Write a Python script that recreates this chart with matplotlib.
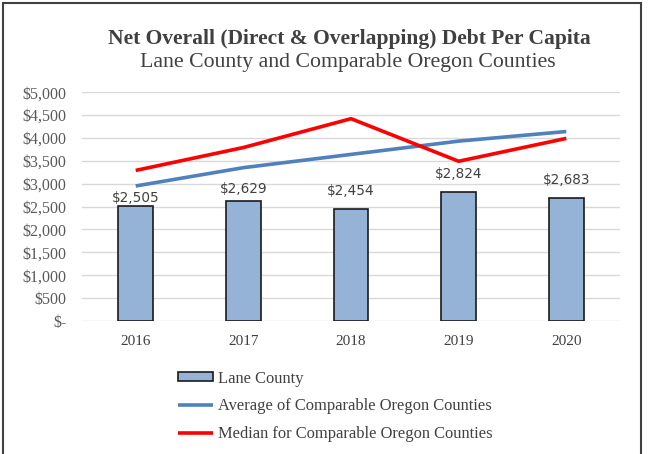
import matplotlib.pyplot as plt
from matplotlib.patches import Rectangle
from matplotlib.ticker import FuncFormatter

years = ["2016", "2017", "2018", "2019", "2020"]
lane = [2505, 2629, 2454, 2824, 2683]
average = [2950, 3350, 3640, 3930, 4140]
median = [3290, 3790, 4420, 3490, 3990]

serif = "Liberation Serif"
gray = "#595959"

fig = plt.figure(figsize=(6.5, 4.54), dpi=100)
ax = fig.add_axes([0.126, 0.293, 0.828, 0.504])

x = range(len(years))
bars = ax.bar(x, lane, width=0.32, color="#95B3D7", edgecolor="#1a1a1a", linewidth=1.2,
              label="Lane County", zorder=2)
l1, = ax.plot(x, average, color="#4F81BD", linewidth=2.6, label="Average of Comparable Oregon Counties",
              zorder=3, solid_capstyle="butt")
l2, = ax.plot(x, median, color="#FF0000", linewidth=2.6, label="Median for Comparable Oregon Counties",
              zorder=3, solid_capstyle="butt")

offs = [8, 12, 18, 18, 18]
for i, v in enumerate(lane):
    ax.annotate(f"${v:,}", (i, v), xytext=(0, offs[i]), textcoords="offset pixels",
                ha="center", va="center", fontsize=9.8, color="#404040",
                family="DejaVu Sans", zorder=4)

ax.set_xlim(-0.5, len(years) - 0.5)
ax.set_ylim(0, 5000)
ax.set_yticks(range(0, 5001, 500))
ax.yaxis.set_major_formatter(FuncFormatter(lambda v, p: "$-" if v == 0 else f"${int(v):,}"))
ax.set_xticks(list(x))
ax.set_xticklabels(years)
ax.grid(axis="y", color="#D9D9D9", linewidth=1, zorder=0)
ax.set_axisbelow(True)
for s in ax.spines.values():
    s.set_visible(False)
ax.tick_params(length=0, labelcolor=gray)
ax.tick_params(axis="y", pad=11)
ax.tick_params(axis="x", pad=10)
for t in ax.get_yticklabels():
    t.set_family(serif)
    t.set_fontsize(11.5)
for t in ax.get_xticklabels():
    t.set_family(serif)
    t.set_fontsize(11)
    t.set_color("#404040")

fig.text(0.537, 0.914, "Net Overall (Direct & Overlapping) Debt Per Capita", ha="center", va="center",
         family=serif, fontsize=15.5, fontweight="bold", color="#404040")
fig.text(0.535, 0.862, "Lane County and Comparable Oregon Counties", ha="center", va="center",
         family=serif, fontsize=15.7, color="#404040")

leg = fig.legend([bars, l1, l2], [bars.get_label(), l1.get_label(), l2.get_label()],
                 loc="upper left", bbox_to_anchor=(0.261, 0.202), frameon=False,
                 prop={"family": serif, "size": 11.9}, labelcolor="#404040",
                 handlelength=2.1, handletextpad=0.3, labelspacing=0.7, borderpad=0,
                 handleheight=0.45)

fig.patches.append(Rectangle((0.004, -0.01), 0.982, 1.004, transform=fig.transFigure,
                             fill=False, edgecolor="#404040", linewidth=1.5))

fig.savefig("out.png", dpi=100)
